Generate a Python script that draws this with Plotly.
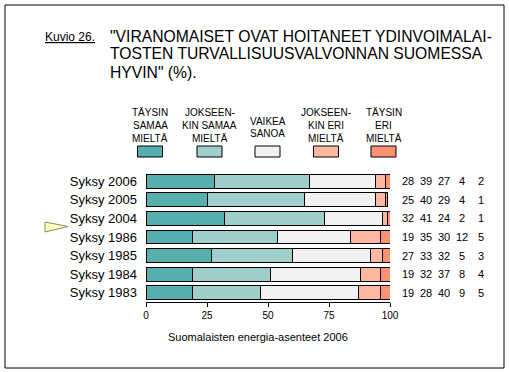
import plotly.graph_objects as go

# ---- data ----
rows = ["Syksy 2006", "Syksy 2005", "Syksy 2004", "Syksy 1986", "Syksy 1985", "Syksy 1984", "Syksy 1983"]
taysin_samaa = [28, 25, 32, 19, 27, 19, 19]
jokseenkin_samaa = [39, 40, 41, 35, 33, 32, 28]
vaikea_sanoa = [27, 29, 24, 30, 32, 37, 40]
jokseenkin_eri = [4, 4, 2, 12, 5, 8, 9]
taysin_eri = [2, 1, 1, 5, 3, 4, 5]
series_names = ["TÄYSIN SAMAA MIELTÄ", "JOKSEENKIN SAMAA MIELTÄ", "VAIKEA SANOA",
                "JOKSEENKIN ERI MIELTÄ", "TÄYSIN ERI MIELTÄ"]
legend_lines = [["TÄYSIN", "SAMAA", "MIELTÄ"], ["JOKSEEN-", "KIN SAMAA", "MIELTÄ"],
                ["VAIKEA", "SANOA"], ["JOKSEEN-", "KIN ERI", "MIELTÄ"], ["TÄYSIN", "ERI", "MIELTÄ"]]
x_ticks = [0, 25, 50, 75, 100]
colors = ["#56AFAE", "#9FCFCC", "#F1F1F1", "#FFB8A0", "#FF9270"]

series = [taysin_samaa, jokseenkin_samaa, vaikea_sanoa, jokseenkin_eri, taysin_eri]

W, H = 509, 372
L, R, T, B = 146, 390, 172, 302

def px(x):
    return (x - L) / (R - L)

def py(y):
    return (B - y) / (B - T)

FONT = "Liberation Sans, Arial, sans-serif"

fig = go.Figure()
for name, vals, c in zip(series_names, series, colors):
    fig.add_trace(go.Bar(
        y=rows, x=vals, name=name, orientation="h",
        marker=dict(color=c, line=dict(color="black", width=1)),
        showlegend=False, hoverinfo="x+y+name",
    ))

annotations = []
shapes = []

# value columns on the right
col_x = [408, 425.5, 444, 462, 480.5]
for vals, cx in zip(series, col_x):
    for r, v in zip(rows, vals):
        annotations.append(dict(x=px(cx), xref="paper", y=r, yref="y", text=str(v),
                                showarrow=False, xanchor="center", yanchor="middle",
                                font=dict(family=FONT, size=11, color="black")))

# legend
leg_cx = [150, 209.5, 267.5, 326, 383.5]
for lines, c, cx in zip(legend_lines, colors, leg_cx):
    if len(lines) == 3:
        ys = [112.5, 125, 138]
    else:
        ys = [121, 133.5]
    for t, yy in zip(lines, ys):
        annotations.append(dict(x=px(cx), xref="paper", y=py(yy), yref="paper", text=t,
                                showarrow=False, xanchor="center", yanchor="middle",
                                font=dict(family=FONT, size=10, color="black")))
    shapes.append(dict(type="rect", xref="paper", yref="paper",
                       x0=px(cx - 12.5), x1=px(cx + 12.5), y0=py(157), y1=py(146),
                       fillcolor=c, line=dict(color="black", width=1)))

# title
annotations.append(dict(x=px(43), xref="paper", y=py(37), yref="paper", text="<u>Kuvio 26.</u>",
                        showarrow=False, xanchor="left", yanchor="middle",
                        font=dict(family=FONT, size=12, color="black")))
title_lines = ['"VIRANOMAISET OVAT HOITANEET YDINVOIMALAI-',
               'TOSTEN TURVALLISUUSVALVONNAN SUOMESSA',
               'HYVIN" (%).']
for t, yy in zip(title_lines, [36, 54, 72]):
    annotations.append(dict(x=px(108), xref="paper", y=py(yy), yref="paper", text=t,
                            showarrow=False, xanchor="left", yanchor="middle",
                            font=dict(family=FONT, size=15.7, color="black")))

# caption
annotations.append(dict(x=px(257.5), xref="paper", y=py(337), yref="paper",
                        text="Suomalaisten energia-asenteet 2006",
                        showarrow=False, xanchor="center", yanchor="middle",
                        font=dict(family=FONT, size=11, color="black")))

# outer frame
shapes.append(dict(type="rect", xref="paper", yref="paper",
                   x0=px(5), x1=px(504), y0=py(368), y1=py(5),
                   line=dict(color="black", width=1), fillcolor="rgba(0,0,0,0)", layer="above"))

# pointer triangle
tri = "M {:.5f},{:.5f} L {:.5f},{:.5f} L {:.5f},{:.5f} Z".format(
    px(45), py(222), px(45), py(232), px(68), py(226.5))
shapes.append(dict(type="path", xref="paper", yref="paper", path=tri,
                   fillcolor="#FFFFBE", line=dict(color="#8A8A60", width=1)))

fig.update_layout(
    barmode="stack", bargap=0.25,
    width=W, height=H,
    margin=dict(l=L, r=W - R, t=T, b=H - B, pad=0),
    paper_bgcolor="white", plot_bgcolor="white",
    font=dict(family=FONT, color="black"),
    annotations=annotations, shapes=shapes,
    xaxis=dict(range=[0, 100], tickvals=x_ticks, ticktext=[str(v) for v in x_ticks],
               showgrid=False, zeroline=False, showline=True, linecolor="black", linewidth=1,
               ticks="outside", ticklen=4, tickcolor="black",
               tickfont=dict(family=FONT, size=10, color="black")),
    yaxis=dict(categoryorder="array", categoryarray=rows, autorange="reversed",
               showgrid=False, zeroline=False, showline=False, ticks="",
               ticklabelstandoff=8,
               tickfont=dict(family=FONT, size=13, color="black")),
)

fig.write_html("out.html", config={"displayModeBar": False},
               post_script="document.body.style.margin='0';document.body.style.overflow='hidden';")
